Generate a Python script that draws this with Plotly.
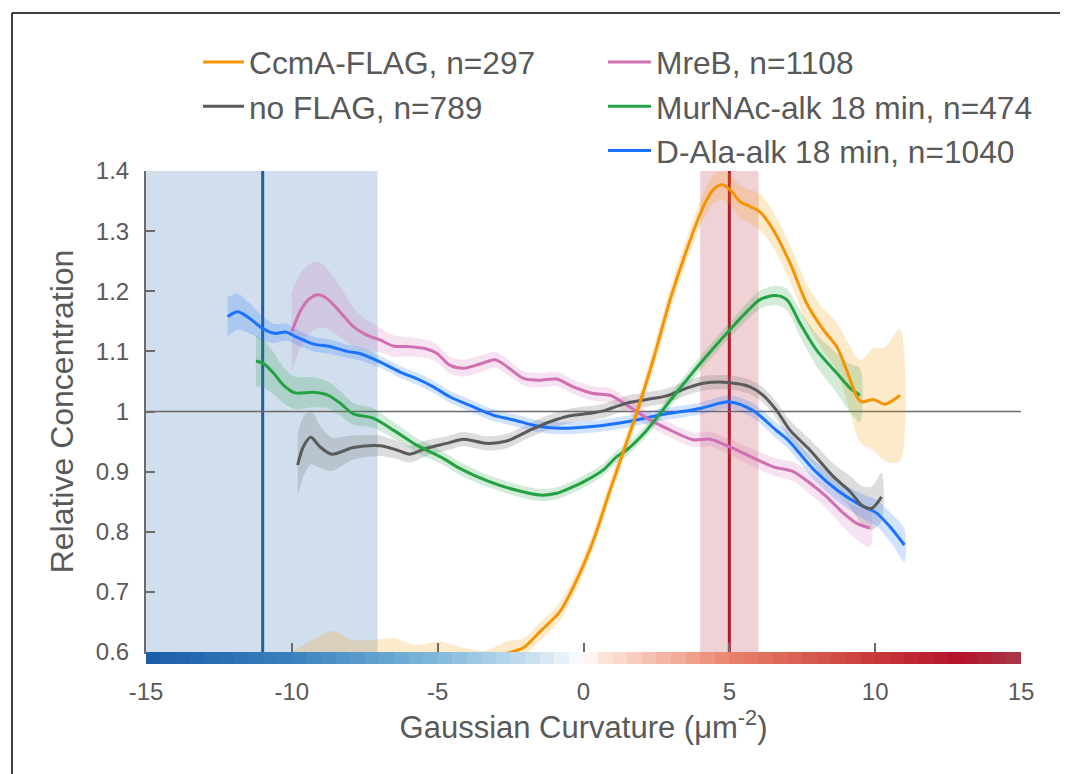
import plotly.graph_objects as go
import numpy as np

# ---------------- data ----------------
dala_x = [-12.2, -11.85, -11.45, -11.0, -10.6, -10.2, -9.85, -9.25, -8.7, -8.1, -7.65, -7.0, -6.3, -5.6, -5.15,
          -4.6, -3.8, -3.1, -2.4, -1.5, -0.8, 0.3, 1.5, 2.6, 4.0, 5.0, 5.8, 6.6, 7.0, 7.9, 8.7, 9.5, 10.05, 10.6, 11.0]
dala_y = [1.158, 1.166, 1.155, 1.138, 1.130, 1.132, 1.124, 1.112, 1.108, 1.100, 1.096, 1.083, 1.066, 1.052, 1.041,
          1.025, 1.008, 0.994, 0.986, 0.975, 0.972, 0.975, 0.983, 0.994, 1.005, 1.016, 1.002, 0.969, 0.953, 0.903,
          0.869, 0.844, 0.831, 0.803, 0.778]
dala_err = [0.032, 0.03, 0.025, 0.02, 0.016, 0.014, 0.013, 0.012, 0.012, 0.011, 0.011, 0.01, 0.01, 0.01, 0.01,
            0.01, 0.01, 0.01, 0.01, 0.01, 0.01, 0.01, 0.01, 0.01, 0.01, 0.011, 0.012, 0.013, 0.014, 0.016,
            0.018, 0.02, 0.022, 0.025, 0.028]

mreb_x = [-10.0, -9.72, -9.43, -9.09, -8.8, -8.35, -7.89, -7.43, -6.98, -6.52, -6.06, -5.38, -5.03, -4.58, -4.12,
          -3.55, -3.03, -2.63, -2.06, -1.49, -0.92, -0.35, 0.34, 0.91, 1.48, 2.17, 2.85, 3.76, 4.34, 5.02, 5.82,
          6.51, 7.19, 7.76, 8.34, 8.91, 9.37, 9.82]
mreb_y = [1.133, 1.166, 1.186, 1.194, 1.188, 1.166, 1.141, 1.127, 1.119, 1.109, 1.108, 1.104, 1.097, 1.077, 1.072,
          1.079, 1.086, 1.075, 1.055, 1.052, 1.054, 1.041, 1.030, 1.027, 1.011, 0.989, 0.972, 0.953, 0.954, 0.941,
          0.923, 0.908, 0.900, 0.881, 0.858, 0.831, 0.814, 0.806]
mreb_err = [0.066, 0.062, 0.058, 0.055, 0.05, 0.042, 0.032, 0.025, 0.02, 0.018, 0.016, 0.015, 0.015, 0.014, 0.014,
            0.014, 0.013, 0.013, 0.012, 0.012, 0.012, 0.012, 0.012, 0.012, 0.012, 0.012, 0.012, 0.012, 0.012, 0.013,
            0.014, 0.015, 0.016, 0.018, 0.02, 0.023, 0.027, 0.032]

murn_x = [-11.23, -10.98, -10.63, -10.29, -9.89, -9.26, -8.75, -8.35, -7.89, -7.21, -6.52, -5.72, -5.26, -4.81,
          -4.23, -3.21, -2.29, -1.49, -0.92, -0.35, 0.0, 0.68, 1.14, 1.48, 2.17, 3.08, 4.11, 5.02, 5.6, 6.05, 6.57,
          6.97, 7.42, 7.99, 8.68, 9.14, 9.48]
murn_y = [1.084, 1.080, 1.064, 1.044, 1.031, 1.032, 1.027, 1.014, 0.996, 0.989, 0.969, 0.944, 0.933, 0.922,
          0.905, 0.883, 0.869, 0.861, 0.864, 0.875, 0.883, 0.903, 0.925, 0.936, 0.969, 1.025, 1.086, 1.136, 1.166,
          1.186, 1.193, 1.186, 1.147, 1.102, 1.064, 1.039, 1.027]
murn_err = [0.042, 0.04, 0.035, 0.03, 0.027, 0.025, 0.022, 0.02, 0.018, 0.016, 0.014, 0.012, 0.012, 0.011,
            0.011, 0.01, 0.01, 0.01, 0.01, 0.01, 0.01, 0.01, 0.01, 0.01, 0.01, 0.011, 0.012, 0.013, 0.014, 0.015,
            0.016, 0.018, 0.022, 0.027, 0.033, 0.04, 0.045]

noflag_x = [-9.8, -9.61, -9.35, -9.03, -8.63, -7.89, -6.98, -6.4, -5.95, -5.38, -4.69, -4.12, -3.32, -2.63, -1.83,
            -1.15, -0.46, 0.22, 0.68, 1.48, 2.17, 2.85, 3.54, 4.11, 5.02, 5.71, 6.16, 6.62, 7.08, 7.76, 8.56, 9.14,
            9.54, 9.88, 10.22]
noflag_y = [0.911, 0.941, 0.957, 0.941, 0.929, 0.940, 0.943, 0.936, 0.929, 0.939, 0.947, 0.954, 0.947, 0.951, 0.969,
            0.983, 0.993, 0.997, 1.001, 1.014, 1.020, 1.026, 1.039, 1.047, 1.048, 1.041, 1.027, 1.002, 0.969, 0.936,
            0.892, 0.867, 0.844, 0.839, 0.858]
noflag_err = [0.05, 0.05, 0.045, 0.035, 0.028, 0.02, 0.017, 0.015, 0.014, 0.013, 0.012, 0.012, 0.012, 0.012, 0.012,
              0.012, 0.012, 0.012, 0.012, 0.012, 0.012, 0.012, 0.012, 0.012, 0.012, 0.012, 0.013, 0.014, 0.016, 0.018,
              0.022, 0.026, 0.032, 0.036, 0.04]

ccma_x = [-10.0, -9.3, -8.6, -7.9, -7.2, -6.5, -5.8, -4.9, -4.2, -3.4, -2.6, -2.06, -1.49, -0.81, -0.23, 0.34,
          0.91, 1.31, 1.82, 2.39, 2.97, 3.54, 4.11, 4.45, 4.74, 5.02, 5.37, 5.71, 6.05, 6.51, 7.08, 7.65, 8.22,
          8.68, 9.02, 9.37, 9.54, 9.94, 10.34, 10.85]
ccma_y = [0.57, 0.585, 0.595, 0.585, 0.585, 0.59, 0.58, 0.585, 0.578, 0.58, 0.598, 0.607, 0.634, 0.667, 0.72, 0.786,
          0.869, 0.925, 0.997, 1.086, 1.186, 1.269, 1.341, 1.369, 1.377, 1.369, 1.349, 1.341, 1.332, 1.302, 1.247,
          1.180, 1.136, 1.108, 1.069, 1.025, 1.016, 1.020, 1.012, 1.027]
ccma_err = [0.03, 0.035, 0.04, 0.035, 0.035, 0.033, 0.032, 0.032, 0.03, 0.022, 0.02, 0.015, 0.015, 0.015, 0.015,
            0.015, 0.015, 0.015, 0.016, 0.018, 0.02, 0.02, 0.022, 0.024, 0.025, 0.026, 0.027, 0.028, 0.03, 0.03,
            0.03, 0.033, 0.035, 0.04, 0.05, 0.065, 0.07, 0.085, 0.095, 0.11]

neg_region = [-15, -7.06]
neg_peak = -11
pos_region = [4.0, 6.0]
pos_peak = 5

x_ticks = [-15, -10, -5, 0, 5, 10, 15]
x_ticktext = ["-15", "-10", "-5", "0", "5", "10", "15"]
y_ticks = [0.6, 0.7, 0.8, 0.9, 1.0, 1.1, 1.2, 1.3, 1.4]
y_ticktext = ["0.6", "0.7", "0.8", "0.9", "1", "1.1", "1.2", "1.3", "1.4"]

strip_x = list(np.arange(-14.75, 15.0, 0.5))

series = [
    # name, x, y, err, line color, band color, legend
    ("CcmA-FLAG, n=297", ccma_x, ccma_y, ccma_err, "#f59300", "rgba(247,160,20,0.22)", "legend"),
    ("no FLAG, n=789", noflag_x, noflag_y, noflag_err, "#5a5a5a", "rgba(120,120,120,0.25)", "legend"),
    ("MreB, n=1108", mreb_x, mreb_y, mreb_err, "#d070b2", "rgba(208,112,178,0.2)", "legend2"),
    ("MurNAc-alk 18 min, n=474", murn_x, murn_y, murn_err, "#24a243", "rgba(36,162,67,0.2)", "legend2"),
    ("D-Ala-alk 18 min, n=1040", dala_x, dala_y, dala_err, "#1a72ff", "rgba(26,114,255,0.2)", "legend2"),
]

fig = go.Figure()

# colour strip under the x axis
fig.add_trace(go.Heatmap(
    x=strip_x, y=[0.5], z=[strip_x], xaxis="x", yaxis="y2", showscale=False, hoverinfo="skip",
    zmin=-15, zmax=15,
    colorscale=[[0.0, "#1c5ca8"], [0.17, "#3a82bf"], [0.33, "#7fb8da"], [0.45, "#cfe3f1"], [0.5, "#ffffff"],
                [0.52, "#fde6dc"], [0.67, "#e8826a"], [0.83, "#c93a3a"], [0.93, "#b3132b"], [1.0, "#a8384c"]],
))

# confidence bands
for name, xs, ys, es, lc, bc, lg in series:
    up = [y + e for y, e in zip(ys, es)]
    lo = [y - e for y, e in zip(ys, es)]
    fig.add_trace(go.Scatter(
        x=list(xs) + list(xs)[::-1], y=up + lo[::-1], fill="toself", fillcolor=bc,
        line=dict(width=0, shape="spline", smoothing=0.8), mode="lines", showlegend=False, hoverinfo="skip",
    ))

# mean lines
draw_order = [4, 2, 1, 3, 0]
for i in draw_order:
    name, xs, ys, es, lc, bc, lg = series[i]
    fig.add_trace(go.Scatter(
        x=xs, y=ys, mode="lines", name=name, legend=lg, legendrank=i,
        line=dict(color=lc, width=3, shape="spline", smoothing=0.8),
    ))

grey = "#6b6b6b"
txt = "#595959"
font_family = "Liberation Sans, Arial, sans-serif"

# page has an 8px body margin: figure is 1060x766, placed at (8, 8)
W, H = 1060, 766
ML, MR, MT, MB = 138, 47, 163, 110
plot_h = H - MT - MB
strip_frac = 12 / plot_h


def px_to_paper_x(px):
    return (px - 8 - ML) / (W - ML - MR)


def px_to_paper_y(py):
    return (H + 8 - MB - py) / plot_h


shapes = [
    dict(type="rect", xref="x", yref="y", x0=neg_region[0], x1=neg_region[1], y0=0.6, y1=1.4,
         fillcolor="rgba(31,100,170,0.21)", line=dict(width=0), layer="below"),
    dict(type="rect", xref="x", yref="y", x0=pos_region[0], x1=pos_region[1], y0=0.6, y1=1.4,
         fillcolor="rgba(178,24,43,0.2)", line=dict(width=0), layer="below"),
    dict(type="line", xref="x", yref="y", x0=neg_peak, x1=neg_peak, y0=0.6, y1=1.4,
         line=dict(color="#1f5fa8", width=3), layer="below"),
    dict(type="line", xref="x", yref="y", x0=pos_peak, x1=pos_peak, y0=0.6, y1=1.4,
         line=dict(color="#b2182b", width=3), layer="below"),
    dict(type="line", xref="x", yref="y", x0=-15, x1=15, y0=1, y1=1,
         line=dict(color=grey, width=1.5), layer="below"),
    # outer frame (top and left)
    dict(type="line", xref="paper", yref="paper", x0=px_to_paper_x(12), x1=px_to_paper_x(12),
         y0=px_to_paper_y(790), y1=px_to_paper_y(13), line=dict(color="black", width=1.5)),
    dict(type="line", xref="paper", yref="paper", x0=px_to_paper_x(12), x1=px_to_paper_x(1080),
         y0=px_to_paper_y(13), y1=px_to_paper_y(13), line=dict(color="black", width=1.5)),
]

fig.update_layout(
    width=W, height=H,
    margin=dict(l=ML, r=MR, t=MT, b=MB),
    paper_bgcolor="white", plot_bgcolor="white",
    font=dict(family=font_family, color=txt, size=24),
    shapes=shapes,
    xaxis=dict(range=[-15, 15], tickvals=x_ticks, ticktext=x_ticktext, ticks="inside", ticklen=9, tickwidth=2,
               tickcolor=grey, showline=True, linecolor=grey, linewidth=2, showgrid=False, zeroline=False,
               anchor="y", tickfont=dict(size=24, color=txt), ticklabelstandoff=17,
               title=dict(text="Gaussian Curvature (μm<sup>-2</sup>)", font=dict(size=31, color=txt), standoff=7)),
    yaxis=dict(range=[0.6, 1.4], domain=[strip_frac, 1], tickvals=y_ticks, ticktext=y_ticktext, ticks="inside",
               ticklen=9, tickwidth=2, tickcolor=grey, showline=True, linecolor=grey, linewidth=2,
               showgrid=False, zeroline=False, tickfont=dict(size=24, color=txt), ticklabelstandoff=10,
               title=dict(text="Relative Concentration", font=dict(size=32, color=txt), standoff=13)),
    yaxis2=dict(domain=[0, strip_frac], range=[0, 1], visible=False, anchor="x", fixedrange=True),
    legend=dict(x=px_to_paper_x(198), y=px_to_paper_y(35), xanchor="left", yanchor="top", orientation="v",
                font=dict(size=31.7, color=txt), bgcolor="rgba(0,0,0,0)", tracegroupgap=0, itemwidth=41),
    legend2=dict(x=px_to_paper_x(603), y=px_to_paper_y(35), xanchor="left", yanchor="top", orientation="v",
                 font=dict(size=31.7, color=txt), bgcolor="rgba(0,0,0,0)", tracegroupgap=0, itemwidth=43),
)

fig.write_html("out.html")
